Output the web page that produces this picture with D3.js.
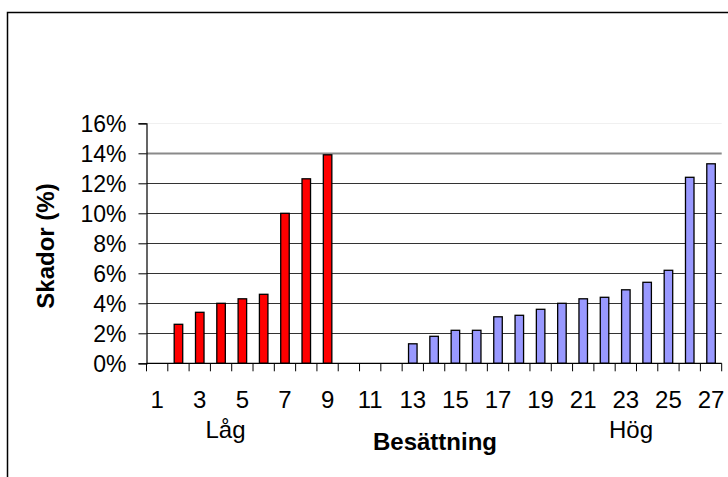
<!DOCTYPE html>
<html>
<head>
<meta charset="utf-8">
<script src="https://cdn.jsdelivr.net/npm/d3@7"></script>
<style>
  html, body { margin: 0; padding: 0; background: #fff; }
  svg { display: block; }
  text { font-family: Arial, "Liberation Sans", sans-serif; fill: #000; }
</style>
</head>
<body>
<svg id="chart" width="728" height="477"></svg>
<script>
// Herd categories 1..27
const categories = d3.range(1, 28);
// Low-staffing group (red) and high-staffing group (blue), damage share in %
const lowCats = [2, 3, 4, 5, 6, 7, 8, 9];
const lowVals = [2.6, 3.4, 4.0, 4.3, 4.6, 10.0, 12.3, 13.9];
const highCats = [13, 14, 15, 16, 17, 18, 19, 20, 21, 22, 23, 24, 25, 26, 27];
const highVals = [1.3, 1.8, 2.2, 2.2, 3.1, 3.2, 3.6, 4.0, 4.3, 4.4, 4.9, 5.4, 6.2, 12.4, 13.3];
const yTicks = [0, 2, 4, 6, 8, 10, 12, 14, 16];
const xTickLabels = categories.filter(c => c % 2 === 1);

const svg = d3.select("#chart");

// outer chart frame
svg.append("rect")
  .attr("x", 7.5).attr("y", 12.5)
  .attr("width", 760).attr("height", 500)
  .attr("fill", "none").attr("stroke", "#000").attr("stroke-width", 1.5);

const plotLeft = 146.5, plotRight = 721.7, plotTop = 123.3, plotBottom = 363.3;

const x = d3.scaleBand()
  .domain(categories)
  .range([plotLeft, plotRight])
  .paddingInner(0.6)
  .paddingOuter(0.3);

const y = d3.scaleLinear().domain([0, 16]).range([plotBottom, plotTop]);

// horizontal gridlines
svg.append("g").selectAll("line")
  .data(yTicks.filter(t => t > 0))
  .join("line")
  .attr("x1", plotLeft).attr("x2", plotRight)
  .attr("y1", d => Math.round(y(d)) + 0.5).attr("y2", d => Math.round(y(d)) + 0.5)
  .attr("stroke", d => d === 16 ? "#f0f0f0" : d === 14 ? "#8a8a8a" : "#333")
  .attr("stroke-width", d => d === 14 ? 2 : 1);

// bars
const bars = svg.append("g");
function drawBars(cats, vals, fill) {
  bars.selectAll(null)
    .data(cats.map((c, i) => ({ c, v: vals[i] })))
    .join("rect")
    .attr("x", d => x(d.c))
    .attr("y", d => y(d.v))
    .attr("width", x.bandwidth())
    .attr("height", d => y(0) - y(d.v))
    .attr("fill", fill)
    .attr("stroke", "#000")
    .attr("stroke-width", 1.3);
}
drawBars(lowCats, lowVals, "#ff0000");
drawBars(highCats, highVals, "#9999ff");

// y axis
const yAxis = d3.axisLeft(y)
  .tickValues(yTicks)
  .tickSize(8)
  .tickPadding(12)
  .tickFormat(d => d + "%");
const yg = svg.append("g")
  .attr("transform", `translate(${plotLeft},0)`)
  .call(yAxis);
yg.select(".domain").attr("stroke", "#000").attr("stroke-width", 1.2);
yg.selectAll(".tick line").attr("stroke", "#000");
yg.selectAll(".tick text")
  .style("font-size", "23px")
  .style("font-family", "Arial, 'Liberation Sans', sans-serif")
  .attr("dy", "0.36em");

// x axis: ticks at category boundaries, labels on odd categories
const step = x.step();
const boundaries = categories.map(c => x(c) + x.bandwidth() / 2 - step / 2)
  .concat([x(27) + x.bandwidth() / 2 + step / 2]);
svg.append("line")
  .attr("x1", plotLeft).attr("x2", plotRight)
  .attr("y1", plotBottom).attr("y2", plotBottom)
  .attr("stroke", "#000").attr("stroke-width", 1.2);
svg.append("g").selectAll("line")
  .data(boundaries)
  .join("line")
  .attr("x1", d => d).attr("x2", d => d)
  .attr("y1", plotBottom).attr("y2", plotBottom + 8)
  .attr("stroke", "#000");
svg.append("g").selectAll("text")
  .data(xTickLabels)
  .join("text")
  .attr("x", d => x(d) + x.bandwidth() / 2)
  .attr("y", 408)
  .attr("text-anchor", "middle")
  .style("font-size", "24px")
  .text(d => d);

// group labels and axis titles
svg.append("text").attr("x", 225.5).attr("y", 438)
  .attr("text-anchor", "middle").style("font-size", "24px").text("Låg");
svg.append("text").attr("x", 631).attr("y", 438)
  .attr("text-anchor", "middle").style("font-size", "24px").text("Hög");
svg.append("text").attr("x", 435).attr("y", 450)
  .attr("text-anchor", "middle").style("font-size", "24px").style("font-weight", "bold")
  .text("Besättning");
svg.append("text")
  .attr("transform", "translate(54,246) rotate(-90)")
  .attr("text-anchor", "middle").style("font-size", "24px").style("font-weight", "bold")
  .text("Skador (%)");
</script>
</body>
</html>
